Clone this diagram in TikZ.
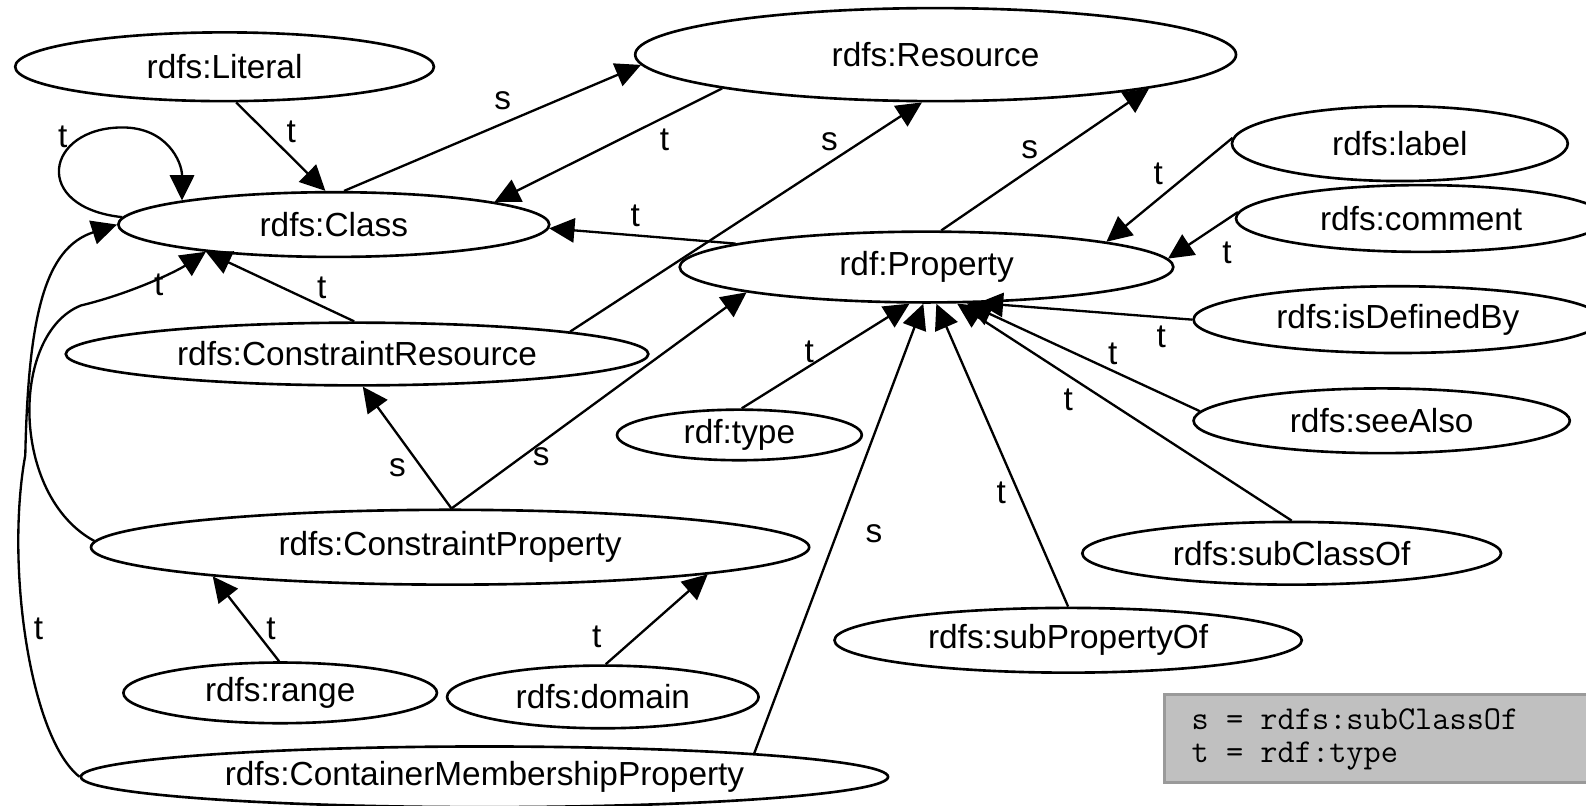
\documentclass[tikz,border=0pt]{standalone}
\usepackage{fontspec}
\setmainfont{Liberation Sans}
\usetikzlibrary{arrows.meta,shapes.geometric}
\definecolor{keyfill}{HTML}{C0C0C0}
\definecolor{keyline}{HTML}{9A9A9A}
\begin{document}
\begin{tikzpicture}[x=1pt,y=-1pt,
  cls/.style={draw=black, line width=2.6pt, ellipse, inner sep=0pt,
    font=\fontsize{33}{36}\selectfont},
  lbl/.style={inner sep=0pt, font=\fontsize{33}{36}\selectfont},
  rel/.style={draw=black, line width=2.3pt, line join=round,
    -{Triangle[length=25pt,width=24pt]}},
  keytext/.style={inner sep=0pt, anchor=west,
    font=\ttfamily\fontsize{33}{34}\selectfont},
]
\path[use as bounding box, fill=white] (0,0) rectangle (1568,796);
\clip (0,0) rectangle (1568,796);

% classes and properties
\node[cls, minimum width=414pt, minimum height=68pt] (lit)  at (222,66)   {rdfs:Literal};
\node[cls, minimum width=594pt, minimum height=92pt] (res)  at (925,54)   {rdfs:Resource};
\node[cls, minimum width=426pt, minimum height=64pt] (cls)  at (330,222)  {rdfs:Class};
\node[cls, minimum width=488pt, minimum height=70pt] (prop) at (916,264)  {rdf:Property};
\node[cls, minimum width=332pt, minimum height=74pt] (lab)  at (1384,142) {rdfs:label};
\node[cls, minimum width=366pt, minimum height=66pt] (com)  at (1405,216) {rdfs:comment};
\node[cls, minimum width=404pt, minimum height=66pt] (def)  at (1382,316) {rdfs:isDefinedBy};
\node[cls, minimum width=372pt, minimum height=64pt] (see)  at (1366,416) {rdfs:seeAlso};
\node[cls, minimum width=414pt, minimum height=62pt] (sco)  at (1277,547) {rdfs:subClassOf};
\node[cls, minimum width=462pt, minimum height=64pt] (spo)  at (1056,633) {rdfs:subPropertyOf};
\node[cls, minimum width=242pt, minimum height=50pt] (typ)  at (731,430)  {rdf:type};
\node[cls, minimum width=576pt, minimum height=62pt] (cr)   at (353,350)  {rdfs:ConstraintResource};
\node[cls, minimum width=710pt, minimum height=74pt] (cp)   at (445,541)  {rdfs:ConstraintProperty};
\node[cls, minimum width=310pt, minimum height=60pt] (rng)  at (277,685)  {rdfs:range};
\node[cls, minimum width=308pt, minimum height=62pt] (dom)  at (596,689)  {rdfs:domain};
\node[cls, minimum width=798pt, minimum height=60pt] (cmp)  at (479,768)  {rdfs:ContainerMembershipProperty};

% relations
\draw[rel] (lit.-72) -- (cls.104);
\draw[rel] (cls.73) -- (res.182);
\draw[rel] (res.189) -- (cls.8);
\draw[rel] (cls.178) .. controls (30,205) and (45,126) .. (121,126)
                     .. controls (165,126) and (180,160) .. (cls.171);
\draw[rel] (prop.173) -- (cls.-1);
\draw[rel] (cr.6) -- (res.-106);
\draw[rel] (prop.68) -- (res.-9);
\draw[rel] (lab.178) -- (prop.8);
\draw[rel] (com.178) -- (prop.2);
\draw[rel] (def.180) -- (prop.-35);
\draw[rel] (see.177) -- (prop.-42);
\draw[rel] (sco.90) -- (prop.-50);
\draw[rel] (spo.90) -- (prop.-75);
\draw[rel] (typ.85) -- (prop.-115);
\draw[rel] (cmp.5) -- (prop.-95);
\draw[rel] (cp.88) -- (prop.-172);
\draw[rel] (cp.88) -- (cr.-80);
\draw[rel] (cr.95) -- (cls.-168);
\draw[rel] (cp.179) .. controls (10,490) and (10,330) .. (80,302)
                    .. controls (130,290) and (175,268) .. (cls.-168);
\draw[rel] (cmp.180) .. controls (30,730) and (5,560) .. (25,450)
                     .. controls (28,310) and (45,245) .. (cls.180);
\draw[rel] (rng.92) -- (cp.-173);
\draw[rel] (dom.85) -- (cp.-6);

% relation letters
\node[lbl] (l1)  at (288,130)  {t};
\node[lbl] (l2)  at (497,100)  {s};
\node[lbl] (l3)  at (657,138)  {t};
\node[lbl] (l4)  at (62,135)   {t};
\node[lbl] (l5)  at (628,213)  {t};
\node[lbl] (l6)  at (820,140)  {s};
\node[lbl] (l7)  at (1018,148) {s};
\node[lbl] (l8)  at (1145,172) {t};
\node[lbl] (l9)  at (1213,250) {t};
\node[lbl] (l10) at (1148,333) {t};
\node[lbl] (l11) at (1100,350) {t};
\node[lbl] (l12) at (1056,395) {t};
\node[lbl] (l13) at (990,487)  {t};
\node[lbl] (l14) at (800,348)  {t};
\node[lbl] (l15) at (864,528)  {s};
\node[lbl] (l16) at (535,452)  {s};
\node[lbl] (l17) at (393,462)  {s};
\node[lbl] (l18) at (318,285)  {t};
\node[lbl] (l19) at (157,282)  {t};
\node[lbl] (l20) at (38,622)   {t};
\node[lbl] (l21) at (268,622)  {t};
\node[lbl] (l22) at (590,630)  {t};

% key
\node[draw=keyline, fill=keyfill, line width=3pt, anchor=north west,
      minimum width=440pt, minimum height=87pt, inner sep=0pt] (key) at (1150,685) {};
\node[keytext] (k1) at (1178,711) {s = rdfs:subClassOf};
\node[keytext] (k2) at (1178,747) {t = rdf:type};
\end{tikzpicture}
\end{document}
